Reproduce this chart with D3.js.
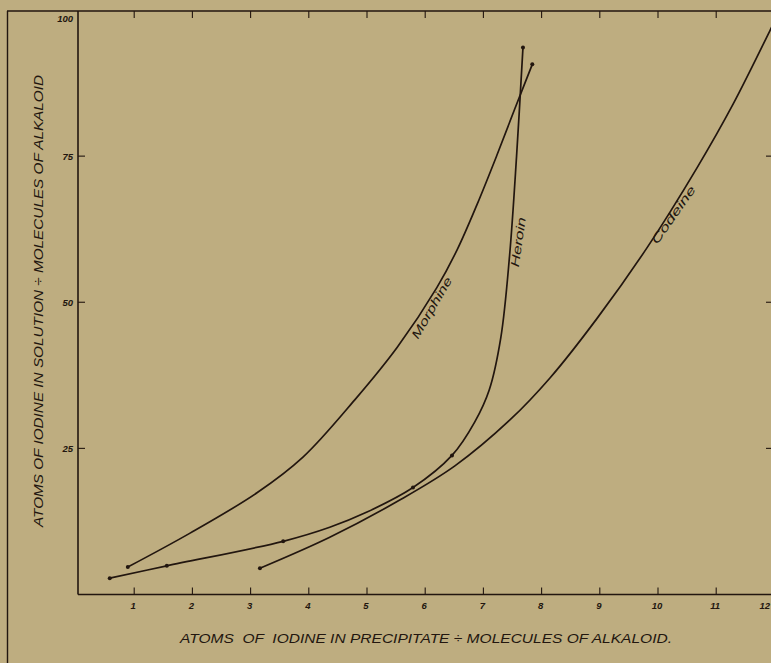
<!DOCTYPE html>
<html>
<head>
<meta charset="utf-8">
<script src="https://cdn.jsdelivr.net/npm/d3@7/dist/d3.min.js"></script>
<style>
  html, body { margin: 0; padding: 0; background: #bead80; }
  svg { display: block; }
  text { font-family: "Liberation Sans", "DejaVu Sans", sans-serif; font-style: italic; fill: #22160f; }
</style>
</head>
<body>
<svg id="chart" width="771" height="663"></svg>
<script>
// ---- data ----
const xTicks = [1, 2, 3, 4, 5, 6, 7, 8, 9, 10, 11, 12];
const yTicks = [25, 50, 75, 100];

const morphine = [[0.89,4.7],[1.96,10.5],[3.11,17.4],[3.9,23.5],[4.79,33.3],[5.52,42.3],[6.2,52.5],[6.55,59.0],[6.89,66.7],[7.23,75.1],[7.54,83.1],[7.84,90.7]];
const heroin   = [[0.58,2.8],[1.56,4.9],[3.56,9.1],[4.36,11.5],[5.0,14.1],[5.79,18.3],[6.46,23.8],[6.85,29.5],[7.1,35.0],[7.3,44.0],[7.45,58.0],[7.57,75.0],[7.68,93.6]];
const codeine  = [[3.16,4.5],[4.36,9.8],[5.57,16.2],[6.51,22.0],[7.46,29.9],[8.14,37.0],[8.95,47.2],[9.81,59.3],[10.67,73.0],[11.29,83.9],[11.92,96.4],[12.0,98.0]];
const heroinDots = [[0.58,2.8],[1.56,4.9],[3.56,9.1],[5.79,18.3],[6.46,23.8],[7.68,93.6]];
const endDots = [[0.89,4.7],[3.16,4.5],[7.84,90.7]];

const curveNames = ["Morphine", "Heroin", "Codeine"];
const labelAnchors = [[6.0,49.7],[7.515,60.4],[10.2,65.4]];

const xTitle = "ATOMS  OF  IODINE IN PRECIPITATE \u00F7 MOLECULES OF ALKALOID.";
const yTitle = "ATOMS OF IODINE IN SOLUTION \u00F7 MOLECULES OF ALKALOID";

// ---- drawing ----
const ink = "#22160f";
const svg = d3.select("#chart");
const x = d3.scaleLinear().domain([0, 12]).range([76, 774.4]);
const y = d3.scaleLinear().domain([0, 100]).range([594.5, 10]);

const g = svg.append("g");

// outer frame lines
g.append("line").attr("x1", 7).attr("x2", 771).attr("y1", 11).attr("y2", 11)
  .attr("stroke", ink).attr("stroke-width", 1.6);
g.append("line").attr("x1", 7.5).attr("x2", 7.5).attr("y1", 11).attr("y2", 663)
  .attr("stroke", ink).attr("stroke-width", 1.4);

// axes lines
g.append("line").attr("x1", x(0) + 2).attr("x2", x(0) + 2).attr("y1", 11).attr("y2", y(0))
  .attr("stroke", ink).attr("stroke-width", 1.6);
g.append("line").attr("x1", x(0) + 2).attr("x2", 771).attr("y1", y(0)).attr("y2", y(0))
  .attr("stroke", ink).attr("stroke-width", 1.6);

// bottom ticks
g.selectAll(".xtb").data(xTicks).join("line")
  .attr("x1", d => x(d)).attr("x2", d => x(d))
  .attr("y1", y(0)).attr("y2", y(0) - 7)
  .attr("stroke", ink).attr("stroke-width", 1.1);
// top ticks
g.selectAll(".xtt").data(xTicks).join("line")
  .attr("x1", d => x(d)).attr("x2", d => x(d))
  .attr("y1", 11).attr("y2", 18)
  .attr("stroke", ink).attr("stroke-width", 1.1);
// left ticks
g.selectAll(".ytl").data(yTicks.filter(d => d < 100)).join("line")
  .attr("x1", x(0) + 2).attr("x2", x(0) + 9)
  .attr("y1", d => y(d)).attr("y2", d => y(d))
  .attr("stroke", ink).attr("stroke-width", 1.1);
// right ticks
g.selectAll(".ytr").data(yTicks.filter(d => d < 100)).join("line")
  .attr("x1", 766).attr("x2", 774)
  .attr("y1", d => y(d)).attr("y2", d => y(d))
  .attr("stroke", ink).attr("stroke-width", 1.1);

// x tick labels
g.selectAll(".xl").data(xTicks).join("text")
  .attr("x", d => d === 12 ? 770 : x(d) - 1).attr("y", y(0) + 14)
  .attr("text-anchor", d => d === 12 ? "end" : "middle")
  .attr("font-size", 9.5).attr("font-weight", "bold")
  .text(d => d);
// y tick labels
g.selectAll(".yl").data(yTicks).join("text")
  .attr("x", x(0) - 3).attr("y", d => d === 100 ? y(d) + 12 : y(d) + 3.5)
  .attr("text-anchor", "end").attr("font-size", 9.5).attr("font-weight", "bold")
  .text(d => d);

// axis titles
g.append("text")
  .attr("x", 426).attr("y", 643)
  .attr("text-anchor", "middle").attr("font-size", 13)
  .attr("textLength", 492).attr("lengthAdjust", "spacingAndGlyphs")
  .style("white-space", "pre")
  .text(xTitle);
g.append("text")
  .attr("transform", "translate(43,301) rotate(-90)")
  .attr("text-anchor", "middle").attr("font-size", 13)
  .attr("textLength", 452).attr("lengthAdjust", "spacingAndGlyphs")
  .text(yTitle);

// curves
const line = d3.line().x(d => x(d[0])).y(d => y(d[1])).curve(d3.curveCatmullRom.alpha(0.5));
[morphine, heroin, codeine].forEach(series => {
  g.append("path").attr("d", line(series))
    .attr("fill", "none").attr("stroke", ink).attr("stroke-width", 1.7)
    .attr("stroke-linecap", "round");
});

// dots
g.selectAll(".hd").data(heroinDots.concat(endDots)).join("circle")
  .attr("cx", d => x(d[0])).attr("cy", d => y(d[1])).attr("r", 2)
  .attr("fill", ink);

// curve labels (anchored on the curve, text hanging below it)
const angles = [-60, -82, -55];
const lens = [69, 50, 68];
const dys = ["0.97em", "0.75em", "0.72em"];
g.selectAll(".cl").data(curveNames).join("text")
  .attr("transform", (d, i) => `translate(${x(labelAnchors[i][0])},${y(labelAnchors[i][1])}) rotate(${angles[i]})`)
  .attr("text-anchor", "middle").attr("dy", (d, i) => dys[i])
  .attr("font-size", 12)
  .attr("textLength", (d, i) => lens[i]).attr("lengthAdjust", "spacingAndGlyphs")
  .text(d => d);
</script>
</body>
</html>
